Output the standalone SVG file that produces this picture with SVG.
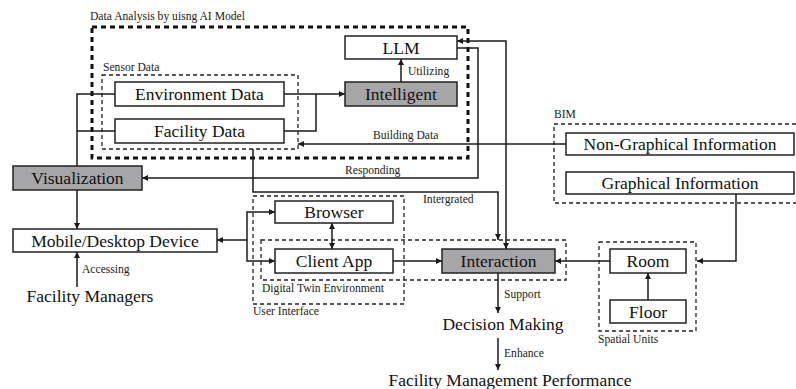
<svg xmlns="http://www.w3.org/2000/svg" width="796" height="389" viewBox="0 0 796 389">
<style>
.box{fill:#fff;stroke:#222;stroke-width:1.5}
.gray{fill:#a6a6a8;stroke:#222;stroke-width:1.5}
text{font-family:'Liberation Serif','Tinos','DejaVu Serif','Noto Serif',serif}
.t{font-size:17.5px;fill:#111;text-anchor:middle}
.s{font-size:11.6px;fill:#222}
.thick{fill:none;stroke:#111;stroke-width:3;stroke-dasharray:5,4}
.dash{fill:none;stroke:#222;stroke-width:1.3;stroke-dasharray:4,3}
.c{fill:none;stroke:#1a1a1a;stroke-width:1.5}
.a{marker-end:url(#ah)}
.b{marker-start:url(#ah);marker-end:url(#ah)}
</style>
<defs>
<marker id="ah" viewBox="0 0 10 10" refX="10" refY="5" markerWidth="6" markerHeight="6" markerUnits="userSpaceOnUse" orient="auto-start-reverse">
<path d="M0,0 L10,5 L0,10 z" fill="#1a1a1a"/>
</marker>
</defs>
<rect width="796" height="389" fill="#fff"/>

<g id="groups">
<rect class="thick" x="92" y="27" width="376" height="131"/>
<text class="s" x="90" y="20">Data Analysis by uisng AI Model</text>
<rect class="dash" x="102" y="75" width="196" height="74"/>
<text class="s" x="103" y="71">Sensor Data</text>
<path class="dash" d="M796,124 H554 V203 H796"/>
<text class="s" x="554" y="118">BIM</text>
<rect class="dash" x="253" y="196" width="151" height="108"/>
<text class="s" x="253" y="315">User Interface</text>
<rect class="dash" x="261" y="240" width="305" height="40"/>
<text class="s" x="262" y="292">Digital Twin Environment</text>
<rect class="dash" x="599" y="242" width="97" height="89"/>
<text class="s" x="598" y="343">Spatial Units</text>
</g>

<g id="connectors">
<path class="c a" d="M115,94 H77 V229"/>
<path class="c" d="M77,131 H115"/>
<path class="c a" d="M284,94 H345"/>
<path class="c" d="M284,131 H316 V94"/>
<path class="c a" d="M401,82 V59"/>
<path class="c a" d="M566,144 H298"/>
<path class="c a" d="M457,48 H478 V178 H142"/>
<path class="c b" d="M457,41 H506 V249"/>
<path class="c a" d="M253,149 V192 H498 V240"/>
<path class="c a" d="M77,287 V252"/>
<path class="c a" d="M247,240 H217"/>
<path class="c a" d="M247,240 V212 H275"/>
<path class="c a" d="M247,240 V261 H275"/>
<path class="c b" d="M332,223 V249"/>
<path class="c a" d="M393,261 H442"/>
<path class="c a" d="M610,261 H555"/>
<path class="c a" d="M648,300 V273"/>
<path class="c a" d="M736,194 V261 H697"/>
<path class="c a" d="M498,273 V313"/>
<path class="c a" d="M498,338 V370"/>
</g>
<g id="labels">
<text class="s" x="408" y="75">Utilizing</text>
<text class="s" x="373" y="139">Building Data</text>
<text class="s" x="345" y="174">Responding</text>
<text class="s" x="423" y="203">Intergrated</text>
<text class="s" x="82" y="273">Accessing</text>
<text class="s" x="504" y="298">Support</text>
<text class="s" x="504" y="357">Enhance</text>
</g>

<g id="llm"><rect class="box" x="345" y="36" width="112" height="23"/><text class="t" x="401" y="53.5">LLM</text></g>
<g id="intelligent"><rect class="gray" x="345" y="82" width="112" height="24"/><text class="t" x="401" y="100">Intelligent</text></g>
<g id="environment-data"><rect class="box" x="115" y="82" width="169" height="24"/><text class="t" x="199.5" y="100">Environment Data</text></g>
<g id="facility-data"><rect class="box" x="115" y="119" width="169" height="24"/><text class="t" x="199.5" y="137">Facility Data</text></g>
<g id="non-graphical"><rect class="box" x="566" y="133" width="228" height="22"/><text class="t" x="680" y="150">Non-Graphical Information</text></g>
<g id="graphical"><rect class="box" x="566" y="172" width="228" height="22"/><text class="t" x="680" y="189">Graphical Information</text></g>
<g id="visualization"><rect class="gray" x="13" y="166" width="129" height="24"/><text class="t" x="77.5" y="184">Visualization</text></g>
<g id="mobile"><rect class="box" x="13" y="229" width="204" height="23"/><text class="t" x="115" y="246.5">Mobile/Desktop Device</text></g>
<g id="browser"><rect class="box" x="275" y="201" width="118" height="22"/><text class="t" x="334" y="218">Browser</text></g>
<g id="client-app"><rect class="box" x="275" y="249" width="118" height="24"/><text class="t" x="334" y="267">Client App</text></g>
<g id="interaction"><rect class="gray" x="442" y="249" width="113" height="24"/><text class="t" x="498.5" y="267">Interaction</text></g>
<g id="room"><rect class="box" x="610" y="249" width="76" height="24"/><text class="t" x="648" y="267">Room</text></g>
<g id="floor"><rect class="box" x="610" y="300" width="76" height="23"/><text class="t" x="648" y="317.5">Floor</text></g>
<g id="facility-managers"><text class="t" x="90" y="302">Facility Managers</text></g>
<g id="decision-making"><text class="t" x="503" y="330">Decision Making</text></g>
<g id="fm-performance"><text class="t" x="510" y="386">Facility Management Performance</text></g>
</svg>
